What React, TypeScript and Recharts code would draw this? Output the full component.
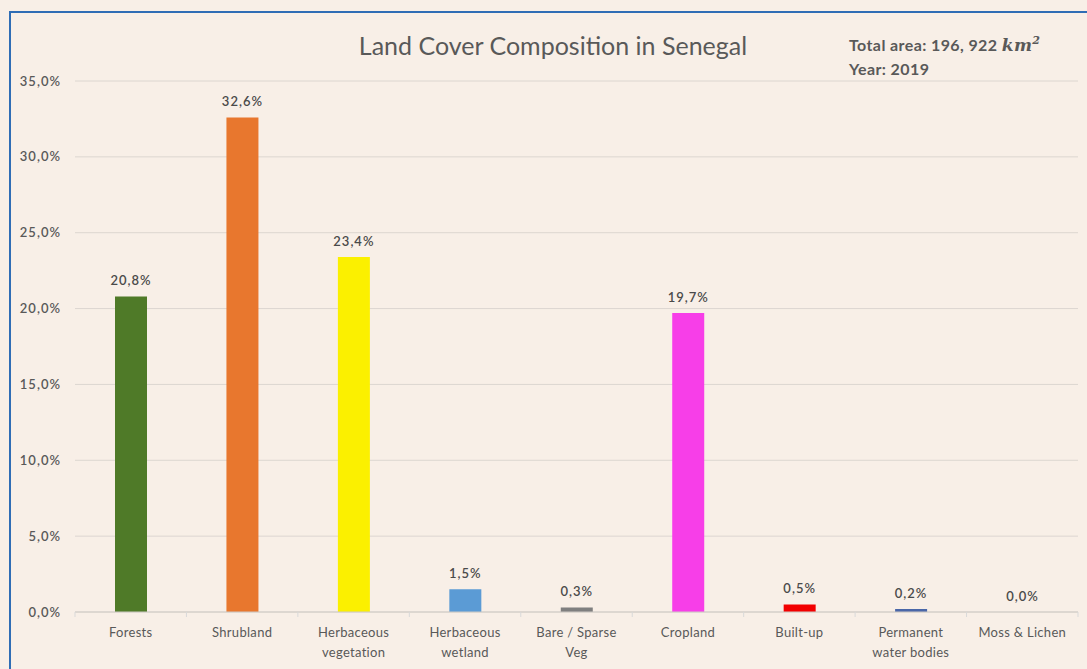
import { BarChart, Bar, XAxis, YAxis, CartesianGrid, Cell, LabelList } from 'recharts'

const categories = [
  'Forests',
  'Shrubland',
  'Herbaceous vegetation',
  'Herbaceous wetland',
  'Bare / Sparse Veg',
  'Cropland',
  'Built-up',
  'Permanent water bodies',
  'Moss & Lichen',
]
const shares = [20.8, 32.6, 23.4, 1.5, 0.3, 19.7, 0.5, 0.2, 0.0]
const barColors = ['#4f7a28', '#e8772e', '#fbf000', '#5b9bd5', '#7f7f7f', '#f73ee8', '#f20000', '#4a67a8', '#8a8a8a']
const yTicks = [0, 5, 10, 15, 20, 25, 30, 35]

// category label split over two lines like the original
const tickLines: Record<string, string[]> = {
  'Herbaceous vegetation': ['Herbaceous', 'vegetation'],
  'Herbaceous wetland': ['Herbaceous', 'wetland'],
  'Bare / Sparse Veg': ['Bare / Sparse', 'Veg'],
  'Permanent water bodies': ['Permanent', 'water bodies'],
}

const data = categories.map((name, i) => ({ name, value: shares[i] }))

const FONT = 'Lato, "Open Sans", sans-serif'
const TEXT = '#595959'
const BAND = 1003 / categories.length

const fmt = (v: number) => v.toFixed(1).replace('.', ',') + '%'

function CategoryTick(props: any) {
  const { x, y, payload, index } = props
  const lines = tickLines[payload.value] ?? [payload.value]
  const left = x - BAND / 2
  const right = x + BAND / 2
  return (
    <g>
      <line x1={left} x2={left} y1={y - 8} y2={y - 3} stroke="#d9d9d9" />
      {index === categories.length - 1 && (
        <line x1={right} x2={right} y1={y - 8} y2={y - 3} stroke="#d9d9d9" />
      )}
      {lines.map((l, i) => (
        <text
          key={i}
          x={x}
          y={y + 17 + i * 20}
          textAnchor="middle"
          fill={TEXT}
          fontSize={13}
          letterSpacing={0.3}
          fontFamily={FONT}
        >
          {l}
        </text>
      ))}
    </g>
  )
}

export default function App() {
  return (
    <div style={{ position: 'absolute', left: 0, top: 0, width: 1087, height: 669, background: '#f8efe7', overflow: 'hidden' }}>
      <div
        style={{
          position: 'absolute',
          left: 9,
          top: 11,
          width: 1200,
          height: 800,
          border: '2px solid #2f6db5',
        }}
      />
      <BarChart
        width={1087}
        height={669}
        data={data}
        margin={{ top: 81, right: 9, bottom: 7, left: 0 }}
        style={{ position: 'absolute', left: 0, top: 0 }}
      >
        <CartesianGrid vertical={false} stroke="#dcd6d0" />
        <XAxis
          dataKey="name"
          height={50}
          interval={0}
          axisLine={{ stroke: '#d0cbc6' }}
          tickLine={false}
          tick={<CategoryTick />}
        />
        <YAxis
          width={75}
          domain={[0, 35]}
          ticks={yTicks}
          tickFormatter={fmt}
          axisLine={false}
          tickLine={false}
          tickMargin={8}
          tick={{ fill: TEXT, fontSize: 13, fontFamily: FONT, fontWeight: 600, letterSpacing: 1 }}
        />
        <Bar dataKey="value" barSize={32} minPointSize={0.1} isAnimationActive={false}>
          {data.map((d, i) => (
            <Cell key={d.name} fill={barColors[i]} />
          ))}
          <LabelList
            dataKey="value"
            position="top"
            offset={11}
            formatter={(v: any) => fmt(Number(v))}
            style={{ fill: '#4a4a4a', fontSize: 13, fontFamily: FONT, fontWeight: 600, letterSpacing: 1 }}
          />
        </Bar>
      </BarChart>
      <div
        style={{
          position: 'absolute',
          left: 0,
          width: 1106,
          top: 29,
          textAlign: 'center',
          fontFamily: FONT,
          fontSize: 25,
          color: TEXT,
          lineHeight: '32px',
        }}
      >
        Land Cover Composition in Senegal
      </div>
      <div
        style={{
          position: 'absolute',
          left: 849,
          top: 33,
          fontFamily: FONT,
          fontSize: 16,
          fontWeight: 700,
          color: TEXT,
          lineHeight: '23px',
          letterSpacing: 0.4,
        }}
      >
        <div>
          Total area: 196, 922{' '}
          <span style={{ fontFamily: '"DejaVu Serif", serif', fontStyle: 'italic', fontSize: 17 }}>
            km<sup style={{ fontSize: 11, lineHeight: 0 }}>2</sup>
          </span>
        </div>
        <div>Year: 2019</div>
      </div>
    </div>
  )
}
